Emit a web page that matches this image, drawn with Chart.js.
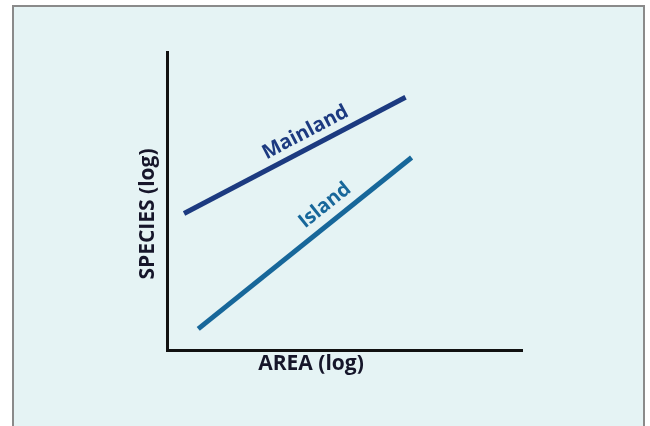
<!DOCTYPE html>
<html>
<head>
<meta charset="utf-8">
<script src="https://cdn.jsdelivr.net/npm/chart.js@4"></script>
<style>
  html, body { margin: 0; padding: 0; background: #ffffff; width: 650px; height: 426px; overflow: hidden; }
  #frame { position: absolute; left: 12px; top: 5px; width: 633px; height: 440px; border: 2px solid #8a8a8a; background: #e5f3f4; box-sizing: border-box; }
  #c { position: absolute; left: 0; top: 0; }
</style>
</head>
<body>
<div id="frame"></div>
<canvas id="c" width="650" height="426"></canvas>
<script>
// Series (schematic units on log-log axes)
const seriesNames = ["Mainland", "Island"];
const mainlandX = [0.48, 6.72];
const mainlandY = [4.58, 8.48];
const islandX = [0.88, 6.89];
const islandY = [0.71, 6.46];
// Label anchor points (data units) along each line
const labelX = [3.9, 4.45];
const labelY = [7.3, 4.85];
const xTitle = "AREA (log)";
const yTitle = "SPECIES (log)";

const colors = ["#1c3a80", "#17679a"];
const titleColor = "#16162a";

function pts(xs, ys) { return xs.map((x, i) => ({ x: x, y: ys[i] })); }

const lineLabels = {
  id: 'lineLabels',
  afterDatasetsDraw(chart) {
    const ctx = chart.ctx;
    const xs = chart.scales.x, ys = chart.scales.y;
    chart.data.datasets.forEach((ds, i) => {
      const d = ds.data;
      const x1 = xs.getPixelForValue(d[0].x), y1 = ys.getPixelForValue(d[0].y);
      const x2 = xs.getPixelForValue(d[1].x), y2 = ys.getPixelForValue(d[1].y);
      const ang = Math.atan2(y2 - y1, x2 - x1);
      const px = xs.getPixelForValue(labelX[i]), py = ys.getPixelForValue(labelY[i]);
      ctx.save();
      ctx.translate(px, py);
      ctx.rotate(ang);
      ctx.font = "bold 20px 'Open Sans'";
      ctx.fillStyle = colors[i];
      ctx.textAlign = 'center';
      ctx.textBaseline = 'middle';
      ctx.fillText(seriesNames[i], 0, 0);
      ctx.restore();
    });
  }
};

const axisTitles = {
  id: 'axisTitles',
  afterDraw(chart) {
    const ctx = chart.ctx;
    const a = chart.chartArea;
    ctx.save();
    ctx.font = "bold 21px 'Open Sans'";
    ctx.fillStyle = titleColor;
    ctx.textAlign = 'center';
    ctx.textBaseline = 'middle';
    ctx.fillText(xTitle, a.left + 144, a.bottom + 14);
    ctx.translate(a.left - 19, a.top + 162);
    ctx.rotate(-Math.PI / 2);
    ctx.fillText(yTitle, 0, 0);
    ctx.restore();
  }
};

new Chart(document.getElementById('c'), {
  type: 'scatter',
  data: {
    datasets: [
      { label: seriesNames[0], data: pts(mainlandX, mainlandY), showLine: true, borderColor: colors[0], borderWidth: 5, pointRadius: 0, borderCapStyle: 'butt' },
      { label: seriesNames[1], data: pts(islandX, islandY), showLine: true, borderColor: colors[1], borderWidth: 5, pointRadius: 0, borderCapStyle: 'butt' }
    ]
  },
  options: {
    responsive: false,
    animation: false,
    layout: { padding: { left: 167, right: 128, top: 52, bottom: 76 } },
    plugins: { legend: { display: false }, tooltip: { enabled: false } },
    scales: {
      x: {
        type: 'linear', min: 0, max: 10,
        grid: { display: false, drawTicks: false },
        ticks: { display: false },
        border: { display: true, color: '#111111', width: 3 },
        title: { display: false }
      },
      y: {
        type: 'linear', min: 0, max: 10,
        grid: { display: false, drawTicks: false },
        ticks: { display: false },
        border: { display: true, color: '#111111', width: 3 },
        title: { display: false }
      }
    }
  },
  plugins: [lineLabels, axisTitles]
});
</script>
</body>
</html>
